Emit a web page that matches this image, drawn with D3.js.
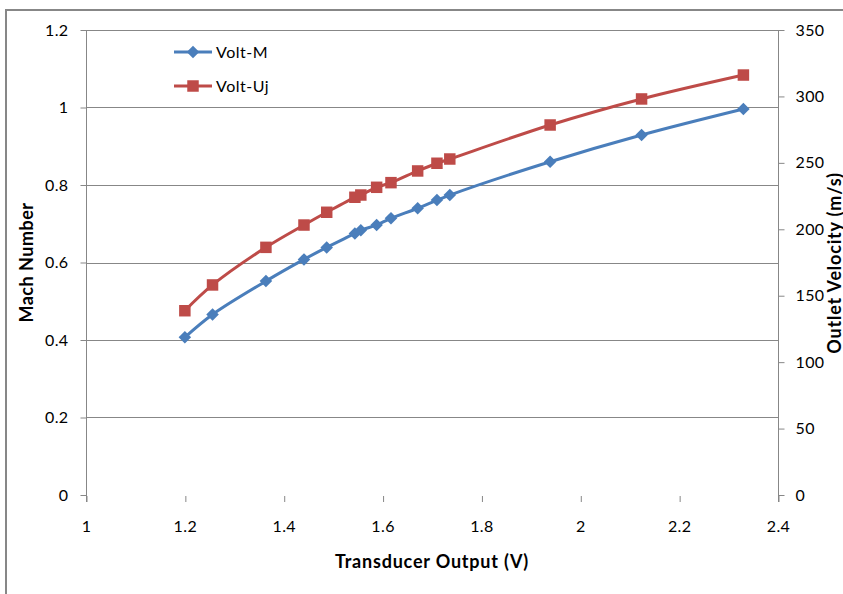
<!DOCTYPE html>
<html>
<head>
<meta charset="utf-8">
<script src="https://cdn.jsdelivr.net/npm/d3@7"></script>
<style>
  html, body { margin: 0; padding: 0; background: #fff; }
  svg { display: block; }
  text { font-family: Lato, "Open Sans", sans-serif; fill: #000; }
</style>
</head>
<body>
<svg id="chart" width="843" height="594"></svg>
<script>
// Transducer output voltage (V)
const voltage = [1.2, 1.256, 1.364, 1.441, 1.487, 1.544, 1.556, 1.588, 1.617, 1.671, 1.710, 1.736, 1.939, 2.124, 2.330];
// Mach number (left axis)
const mach = [0.407, 0.466, 0.552, 0.608, 0.639, 0.675, 0.683, 0.697, 0.714, 0.740, 0.761, 0.774, 0.860, 0.929, 0.996];
// Outlet velocity in m/s (right axis)
const velocity = [138.7, 158.1, 186.4, 203.2, 212.8, 224.1, 225.8, 231.6, 235.1, 243.9, 249.7, 252.9, 278.5, 298.1, 316.1];

const xTicks = [1, 1.2, 1.4, 1.6, 1.8, 2, 2.2, 2.4];
const machTicks = [0, 0.2, 0.4, 0.6, 0.8, 1, 1.2];
const velTicks = [0, 50, 100, 150, 200, 250, 300, 350];

const seriesNames = ["Volt-M", "Volt-Uj"];
const blue = "#4A7EBB";
const red = "#BE4B48";
const gridColor = "#878787";

const svg = d3.select("#chart");
const L = 86, R = 778, T = 30, B = 495;

const x = d3.scaleLinear().domain([1, 2.4]).range([L, R]);
const yL = d3.scaleLinear().domain([0, 1.2]).range([B, T]);
const yR = d3.scaleLinear().domain([0, 350]).range([B, T]);

// outer chart frame
svg.append("rect")
  .attr("x", 6).attr("y", 10).attr("width", 900).attr("height", 700)
  .attr("fill", "none").attr("stroke", gridColor).attr("stroke-width", 2);

// horizontal gridlines (none at zero)
svg.append("g").selectAll("line")
  .data(machTicks.filter(d => d > 0))
  .join("line")
  .attr("x1", L).attr("x2", R)
  .attr("y1", d => Math.round(yL(d)) + 0.5).attr("y2", d => Math.round(yL(d)) + 0.5)
  .attr("stroke", gridColor).attr("stroke-width", 1);

function styleTicks(g) {
  g.selectAll(".tick line").attr("stroke", gridColor);
  g.selectAll(".tick text")
    .attr("font-size", 16).attr("font-family", "Lato")
    .attr("letter-spacing", "0.4px");
}

// left axis
const axL = svg.append("g").attr("transform", `translate(${L + 0.5},0)`)
  .call(d3.axisLeft(yL).tickValues(machTicks).tickSize(6).tickPadding(12)
    .tickFormat(d3.format("~g")));
axL.select(".domain").attr("d", `M0,${T}V${B + 7}`).attr("stroke", gridColor);
styleTicks(axL);

// right axis
const axR = svg.append("g").attr("transform", `translate(${R + 0.5},0)`)
  .call(d3.axisRight(yR).tickValues(velTicks).tickSize(6).tickPadding(11));
axR.select(".domain").attr("d", `M0,${T}V${B + 7}`).attr("stroke", gridColor);
styleTicks(axR);

// bottom axis: ticks and labels only, no baseline
const axB = svg.append("g").attr("transform", `translate(0,${B + 1})`)
  .call(d3.axisBottom(x).tickValues(xTicks).tickSize(6).tickPadding(19)
    .tickFormat(d3.format("~g")));
axB.select(".domain").remove();
axB.selectAll(".tick line").attr("transform", "translate(0.5,0)");
styleTicks(axB);

// axis titles
const titleStyle = sel => sel
  .attr("text-anchor", "middle")
  .attr("font-size", 18).attr("font-weight", "bold")
  .attr("letter-spacing", "0.8px");

svg.append("text")
  .attr("transform", `translate(33,262.5) rotate(-90)`)
  .call(titleStyle)
  .attr("letter-spacing", "0.5px")
  .text("Mach Number");

svg.append("text")
  .attr("transform", `translate(841,263) rotate(-90)`)
  .call(titleStyle)
  .text("Outlet Velocity (m/s)");

svg.append("text")
  .attr("x", (L + R) / 2).attr("y", 568)
  .call(titleStyle)
  .text("Transducer Output (V)");

// series
const machPts = voltage.map((v, i) => [x(v), yL(mach[i])]);
const velPts = voltage.map((v, i) => [x(v), yR(velocity[i])]);
const line = d3.line().curve(d3.curveCatmullRom.alpha(0.5));

svg.append("path").attr("d", line(velPts))
  .attr("fill", "none").attr("stroke", red).attr("stroke-width", 3);
svg.append("path").attr("d", line(machPts))
  .attr("fill", "none").attr("stroke", blue).attr("stroke-width", 3);

const diamond = d3.symbol().type(d3.symbolDiamond2).size(100);
const square = d3.symbol().type(d3.symbolSquare).size(132);

svg.append("g").selectAll("path")
  .data(velPts).join("path")
  .attr("transform", d => `translate(${d[0]},${d[1]})`)
  .attr("d", square).attr("fill", red);

svg.append("g").selectAll("path")
  .data(machPts).join("path")
  .attr("transform", d => `translate(${d[0]},${d[1]})`)
  .attr("d", diamond).attr("fill", blue);

// legend
const legend = svg.append("g");
const legendRows = [
  { name: seriesNames[0], color: blue, sym: diamond, y: 52 },
  { name: seriesNames[1], color: red, sym: square, y: 86 }
];
legendRows.forEach(r => {
  legend.append("line")
    .attr("x1", 174).attr("x2", 212).attr("y1", r.y).attr("y2", r.y)
    .attr("stroke", r.color).attr("stroke-width", 3);
  legend.append("path")
    .attr("transform", `translate(193,${r.y})`)
    .attr("d", r.sym).attr("fill", r.color);
  legend.append("text")
    .attr("x", 216).attr("y", r.y + 6)
    .attr("font-size", 16).attr("letter-spacing", "0.5px")
    .text(r.name);
});
</script>
</body>
</html>
